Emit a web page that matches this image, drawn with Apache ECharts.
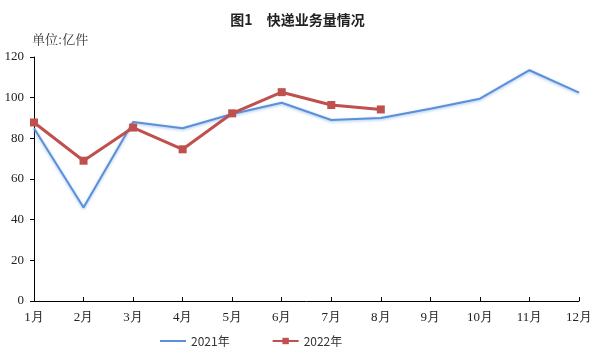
<!DOCTYPE html>
<html><head><meta charset="utf-8">
<script src="https://cdn.jsdelivr.net/npm/echarts@6/dist/echarts.min.js"></script>
<style>html,body{margin:0;padding:0;background:#fff}#c{width:595px;height:354px}</style>
</head><body><div id="c"></div>
<script>
const months = ['1月','2月','3月','4月','5月','6月','7月','8月','9月','10月','11月','12月'];
const y2021 = [85, 46, 88, 85, 92, 97.5, 89, 90, 94.5, 99.5, 113.5, 102.5];
const y2022 = [87.8, 69, 85.3, 74.6, 92.3, 102.7, 96.4, 94.2];
const yTicks = {min: 0, max: 120, interval: 20};
const serif = '"Liberation Serif","Times New Roman",serif';
const cjk = '"Noto Sans CJK SC",sans-serif';
const chart = echarts.init(document.getElementById('c'));
chart.setOption({
  animation: false,
  title: {text: '图1　快递业务量情况', left: 'center', top: 8,
    textStyle: {fontFamily: cjk, fontSize: 14, fontWeight: 'bold', color: '#222'}},
  graphic: [{type: 'text', left: 32, top: 33,
    style: {text: '单位:亿件', font: '13px "Noto Serif CJK SC","Noto Sans CJK SC",serif', fill: '#333'}}],
  grid: {left: 34, right: 16, top: 57, bottom: 53},
  legend: {bottom: 2, left: 154, itemGap: 42, itemWidth: 26, itemHeight: 8,
    textStyle: {fontFamily: cjk, fontSize: 12, color: '#333'},
    data: [{name: '2021年', itemStyle: {opacity: 0}}, '2022年']},
  xAxis: {type: 'category', data: months, boundaryGap: false,
    axisLine: {lineStyle: {color: '#000', width: 1}},
    axisTick: {inside: true, length: 4, alignWithLabel: true, lineStyle: {color: '#000'}},
    axisLabel: {fontFamily: serif, fontSize: 13, color: '#222', margin: 10}},
  yAxis: {type: 'value', min: yTicks.min, max: yTicks.max, interval: yTicks.interval,
    splitLine: {show: false},
    axisLine: {show: true, lineStyle: {color: '#000', width: 1}},
    axisTick: {show: true, length: 4, lineStyle: {color: '#000'}},
    axisLabel: {fontFamily: serif, fontSize: 13, color: '#222', margin: 10}},
  series: [
    {name: '2021年', type: 'line', data: y2021, showSymbol: false, symbol: 'none',
      lineStyle: {color: '#5b8fd8', width: 2, shadowColor: 'rgba(120,170,230,0.7)', shadowBlur: 3, shadowOffsetY: 1},
      itemStyle: {color: '#5b8fd8'}},
    {name: '2022年', type: 'line', data: y2022, symbol: 'rect', symbolSize: 8,
      lineStyle: {color: '#c0504d', width: 3}, itemStyle: {color: '#c0504d'}}
  ]
});
</script></body></html>
